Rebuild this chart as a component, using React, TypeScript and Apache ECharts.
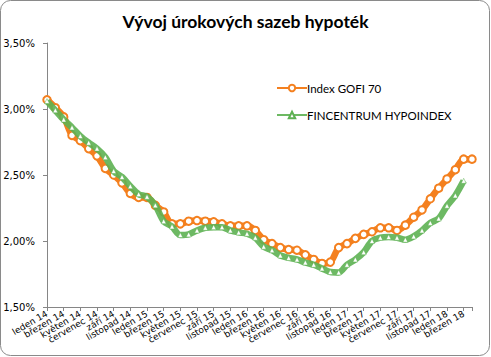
import React, { useEffect, useRef } from "react";
import * as echarts from "echarts";

const months = ["leden", "únor", "březen", "duben", "květen", "červen", "červenec", "srpen", "září", "říjen", "listopad", "prosinec"];
const years = ["14", "15", "16", "17", "18"];
const categories: string[] = [];
for (const y of years) {
  for (const m of months) {
    categories.push(`${m} ${y}`);
  }
}
const cats = categories.slice(0, 52);

const gofi = [
  3.07, 3.01, 2.94, 2.80, 2.76, 2.70, 2.645, 2.55, 2.50, 2.44, 2.36, 2.33,
  2.33, 2.27, 2.22, 2.13, 2.13, 2.15, 2.155, 2.15, 2.145, 2.13, 2.115, 2.115,
  2.115, 2.08, 2.01, 1.98, 1.95, 1.935, 1.93, 1.895, 1.86, 1.83, 1.84, 1.95,
  1.98, 2.02, 2.05, 2.07, 2.10, 2.10, 2.08, 2.12, 2.18, 2.235, 2.32, 2.40,
  2.47, 2.54, 2.62, 2.62,
];

const hypo = [
  3.06, 2.99, 2.92, 2.86, 2.795, 2.745, 2.70, 2.635, 2.53, 2.485, 2.415, 2.355,
  2.335, 2.27, 2.15, 2.11, 2.045, 2.05, 2.08, 2.10, 2.105, 2.105, 2.08, 2.065,
  2.055, 2.025, 1.957, 1.93, 1.89, 1.872, 1.86, 1.837, 1.82, 1.792, 1.765, 1.762,
  1.82, 1.86, 1.915, 2.00, 2.025, 2.03, 2.025, 2.01, 2.035, 2.08, 2.137, 2.17,
  2.267, 2.345, 2.456,
];

const ORANGE = "#F4801F";
const GREEN = "#5DB152";

export default function App() {
  const ref = useRef<HTMLDivElement>(null);
  useEffect(() => {
    if (!ref.current) return;
    const chart = echarts.init(ref.current, undefined, { renderer: "svg" });
    chart.setOption({
      animation: false,
      backgroundColor: "#ffffff",
      title: {
        text: "Vývoj úrokových sazeb hypoték",
        left: "center",
        top: 7,
        textStyle: { fontFamily: "Lato", fontWeight: "bold", fontSize: 17.5, color: "#000" },
      },
      graphic: [
        {
          type: "rect",
          shape: { x: 0.5, y: 0.5, width: 489, height: 355, r: 10 },
          style: { fill: "none", stroke: "#8a8a8a", lineWidth: 1 },
          silent: true,
        },
      ],
      legend: {
        orient: "vertical",
        left: 271,
        top: 77,
        itemWidth: 30,
        itemHeight: 8,
        itemGap: 15,
        textStyle: { fontFamily: "Lato", fontSize: 11.5, color: "#000", padding: [0, 0, 0, -5] },
        data: ["Index GOFI 70", "FINCENTRUM HYPOINDEX"],
      },
      grid: { left: 47, right: 19, top: 43, bottom: 50 },
      xAxis: {
        type: "category",
        data: cats,
        boundaryGap: false,
        axisLine: { lineStyle: { color: "#868686" } },
        axisTick: { interval: 1, length: 4, lineStyle: { color: "#868686" } },
        axisLabel: {
          interval: 0,
          rotate: 30,
          margin: 6,
          fontFamily: "DejaVu Sans",
          fontSize: 9,
          color: "#000",
          formatter: (v: string, idx: number) => (idx % 2 === 0 && idx <= 50 ? v : ""),
        },
        splitLine: { show: false },
      },
      yAxis: {
        type: "value",
        min: 1.5,
        max: 3.5,
        interval: 0.5,
        axisLine: { show: true, lineStyle: { color: "#868686" } },
        axisTick: { show: true, length: 4, lineStyle: { color: "#868686" } },
        splitLine: { show: false },
        axisLabel: {
          margin: 12,
          fontFamily: "DejaVu Sans",
          fontSize: 10,
          color: "#000",
          formatter: (v: number) => v.toFixed(2).replace(".", ",") + "%",
        },
      },
      series: [
        {
          name: "Index GOFI 70",
          type: "line",
          data: gofi,
          smooth: 0.3,
          symbol: "circle",
          symbolSize: 7.5,
          showAllSymbol: true,
          lineStyle: { color: ORANGE, width: 6.5 },
          itemStyle: { color: "#ffffff", borderColor: ORANGE, borderWidth: 2 },
          z: 2,
        },
        {
          name: "FINCENTRUM HYPOINDEX",
          type: "line",
          data: hypo,
          smooth: 0.3,
          symbol: "triangle",
          symbolSize: 5,
          showAllSymbol: true,
          lineStyle: { color: GREEN, width: 6.5, opacity: 0.9 },
          itemStyle: { color: "#ffffff", borderColor: GREEN, borderWidth: 0.5 },
          z: 3,
        },
      ],
    });
    return () => chart.dispose();
  }, []);
  return (
    <div
      ref={ref}
      style={{ position: "absolute", left: 0, top: 0, width: 491, height: 357 }}
    />
  );
}
